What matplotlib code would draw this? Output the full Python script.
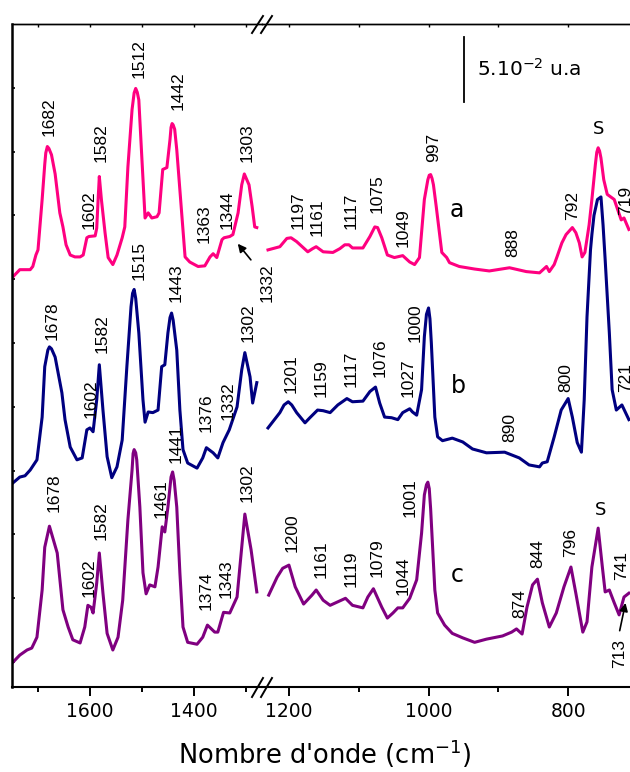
import numpy as np
import matplotlib.pyplot as plt
from matplotlib.lines import Line2D

plt.rcParams['font.family'] = ['DejaVu Sans']

# --- spectra (wavenumber cm-1, stacked intensity in units of 5.10^-2 u.a) ---
a_wn = np.array([1748, 1735, 1715, 1710, 1704, 1700, 1692, 1687, 1685, 1682, 1679, 1674, 1667, 1658,
                 1652, 1646, 1638, 1629, 1619, 1613, 1606, 1602, 1590, 1587, 1584, 1582, 1578, 1571,
                 1565, 1556, 1548, 1538, 1533, 1527, 1519, 1515, 1512, 1509, 1506, 1501, 1494, 1488,
                 1481, 1471, 1467, 1460, 1452, 1446, 1444, 1442, 1440, 1437, 1433, 1423, 1417, 1408,
                 1392, 1379, 1369, 1363, 1356, 1346, 1342, 1331, 1325, 1315, 1308, 1303, 1294, 1288,
                 1283, 1279,
                 1230, 1213, 1203, 1197, 1189, 1181, 1173, 1166, 1161, 1151, 1137, 1127, 1120, 1114,
                 1109, 1094, 1084, 1077, 1073, 1067, 1059, 1049, 1037, 1027, 1020, 1013, 1006, 1001,
                 999, 997, 995, 993, 989, 981, 974, 970, 956, 934, 913, 884, 860, 841, 831, 827, 820,
                 816, 809, 803, 794, 789, 784, 780, 776, 770, 766, 761, 759, 757, 755, 753, 749, 744,
                 734, 729, 724, 720, 713])
a_int = np.array([6.04, 6.15, 6.15, 6.20, 6.38, 6.46, 7.25, 7.80, 7.98, 8.08, 8.05, 7.95, 7.65, 7.04,
                  6.82, 6.54, 6.38, 6.35, 6.35, 6.38, 6.65, 6.67, 6.68, 6.80, 7.30, 7.61, 7.25, 6.73,
                  6.34, 6.23, 6.38, 6.65, 6.82, 7.76, 8.66, 8.92, 8.99, 8.93, 8.81, 8.03, 6.96, 7.04,
                  6.96, 6.98, 7.04, 7.72, 7.75, 8.19, 8.38, 8.44, 8.42, 8.35, 8.03, 6.98, 6.35, 6.27,
                  6.20, 6.21, 6.35, 6.40, 6.34, 6.62, 6.65, 6.67, 6.70, 7.04, 7.48, 7.65, 7.48, 7.14,
                  6.82, 6.81,
                  6.46, 6.51, 6.64, 6.65, 6.59, 6.51, 6.43, 6.48, 6.51, 6.43, 6.42, 6.48, 6.54, 6.54,
                  6.49, 6.49, 6.67, 6.82, 6.81, 6.65, 6.38, 6.34, 6.37, 6.27, 6.23, 6.34, 7.25, 7.56,
                  7.63, 7.64, 7.58, 7.48, 7.14, 6.42, 6.34, 6.26, 6.20, 6.16, 6.13, 6.18, 6.12, 6.10,
                  6.20, 6.12, 6.23, 6.35, 6.57, 6.70, 6.81, 6.73, 6.57, 6.35, 6.42, 6.85, 7.25, 7.80,
                  7.99, 8.06, 8.01, 7.90, 7.56, 7.33, 7.25, 7.09, 6.93, 6.96, 6.78])

b_wn = np.array([1748, 1735, 1725, 1715, 1702, 1692, 1687, 1681, 1678, 1674, 1667, 1654, 1648, 1638,
                 1625, 1615, 1606, 1600, 1594, 1587, 1582, 1575, 1567, 1558, 1548, 1538, 1529, 1521,
                 1518, 1515, 1512, 1506, 1498, 1494, 1488, 1479, 1469, 1462, 1456, 1450, 1446, 1443,
                 1440, 1433, 1427, 1421, 1412, 1394, 1383, 1376, 1363, 1354, 1344, 1332, 1317, 1308,
                 1302, 1292, 1287, 1279,
                 1230, 1213, 1207, 1201, 1196, 1189, 1177, 1170, 1159, 1151, 1141, 1130, 1117, 1109,
                 1094, 1084, 1076, 1070, 1063, 1053, 1044, 1037, 1027, 1023, 1017, 1010, 1006, 1003,
                 1000, 998, 996, 991, 987, 980, 966, 951, 937, 917, 891, 870, 856, 841, 837, 830, 820,
                 810, 800, 794, 787, 781, 777, 773, 768, 766, 763, 758, 753, 750, 747, 741, 737, 731,
                 723, 713])
b_int = np.array([2.81, 2.90, 2.92, 3.01, 3.17, 3.84, 4.63, 4.89, 4.94, 4.91, 4.78, 4.22, 3.80, 3.37,
                  3.17, 3.20, 3.64, 3.67, 3.61, 4.11, 4.66, 3.95, 3.22, 2.89, 3.06, 3.48, 4.63, 5.57,
                  5.78, 5.84, 5.70, 5.16, 4.11, 3.76, 3.92, 3.91, 3.95, 4.63, 4.66, 5.16, 5.40, 5.47,
                  5.36, 4.89, 3.95, 3.33, 3.12, 3.04, 3.20, 3.36, 3.28, 3.20, 3.44, 3.64, 4.00, 4.58,
                  4.85, 4.47, 4.06, 4.38,
                  3.67, 3.91, 4.03, 4.08, 4.03, 3.91, 3.75, 3.83, 3.95, 3.94, 3.91, 4.03, 4.13, 4.08,
                  4.09, 4.24, 4.31, 4.06, 3.84, 3.83, 3.80, 3.91, 3.97, 3.92, 3.87, 4.27, 5.10, 5.45,
                  5.55, 5.38, 5.00, 3.84, 3.53, 3.47, 3.51, 3.45, 3.34, 3.28, 3.29, 3.20, 3.09, 3.06,
                  3.12, 3.14, 3.53, 3.95, 4.13, 3.84, 3.44, 3.29, 4.11, 5.41, 6.46, 6.70, 7.00, 7.25,
                  7.29, 6.85, 6.31, 5.16, 4.27, 3.95, 4.03, 3.80])

c_wn = np.array([1748, 1735, 1721, 1712, 1702, 1692, 1687, 1678, 1663, 1652, 1642, 1633, 1619, 1610,
                 1604, 1598, 1594, 1587, 1582, 1575, 1567, 1556, 1546, 1537, 1527, 1519, 1517, 1515,
                 1512, 1510, 1504, 1498, 1492, 1485, 1475, 1469, 1461, 1456, 1450, 1444, 1441, 1438,
                 1433, 1427, 1421, 1412, 1394, 1383, 1374, 1360, 1354, 1343, 1331, 1317, 1308, 1302,
                 1290, 1279,
                 1229, 1217, 1209, 1200, 1191, 1179, 1167, 1161, 1151, 1141, 1119, 1109, 1094, 1087,
                 1079, 1067, 1059, 1051, 1044, 1037, 1027, 1017, 1010, 1006, 1003, 1001, 999, 997, 991,
                 987, 977, 966, 951, 934, 917, 894, 881, 874, 866, 859, 851, 844, 837, 827, 817, 806,
                 796, 789, 779, 773, 766, 757, 751, 747, 741, 734, 727, 720, 713])
c_int = np.array([0.00, 0.11, 0.19, 0.22, 0.39, 1.13, 1.80, 2.13, 1.71, 0.82, 0.55, 0.35, 0.30, 0.55,
                  0.89, 0.86, 0.77, 1.24, 1.71, 1.08, 0.45, 0.19, 0.39, 0.97, 2.23, 3.01, 3.27, 3.33,
                  3.28, 3.17, 2.43, 1.40, 1.07, 1.21, 1.18, 1.49, 2.12, 2.04, 2.43, 2.90, 2.98, 2.85,
                  2.43, 1.40, 0.55, 0.31, 0.28, 0.39, 0.58, 0.47, 0.47, 0.78, 0.77, 1.02, 1.80, 2.32,
                  1.76, 1.10,
                  1.05, 1.33, 1.47, 1.52, 1.18, 0.91, 1.05, 1.13, 0.97, 0.89, 1.00, 0.89, 0.85, 1.02,
                  1.15, 0.86, 0.69, 0.77, 0.85, 0.85, 1.00, 1.29, 2.02, 2.62, 2.78, 2.82, 2.72, 2.40,
                  1.13, 0.77, 0.58, 0.45, 0.38, 0.31, 0.36, 0.41, 0.47, 0.52, 0.44, 0.86, 1.21, 1.30,
                  0.93, 0.55, 0.77, 1.18, 1.49, 1.08, 0.47, 0.63, 1.49, 2.10, 1.49, 1.10, 1.13, 0.93,
                  0.74, 1.02, 1.08])

# peak labels: text, x (cm-1), y of text bottom
labels_a = [("1682", 1679, 8.24), ("1602", 1602, 6.78), ("1582", 1579, 7.83), ("1512", 1506, 9.16),
            ("1442", 1431, 8.66), ("1363", 1381, 6.57), ("1344", 1337, 6.78), ("1303", 1298, 7.84),
            ("1332", 1260, 5.65), ("1197", 1187, 6.78), ("1161", 1159, 6.67), ("1117", 1111, 6.78),
            ("1075", 1074, 7.04), ("1049", 1036, 6.51), ("997", 993, 7.83), ("888", 879, 6.35),
            ("792", 793, 6.93), ("719", 717, 7.01)]
labels_b = [("1678", 1673, 5.05), ("1602", 1598, 3.83), ("1582", 1577, 4.85), ("1515", 1506, 5.99),
            ("1443", 1435, 5.65), ("1376", 1377, 3.61), ("1332", 1335, 3.80), ("1302", 1296, 5.02),
            ("1201", 1197, 4.22), ("1159", 1154, 4.16), ("1117", 1111, 4.31), ("1076", 1070, 4.47),
            ("1027", 1029, 4.16), ("1000", 1019, 5.02), ("890", 884, 3.45), ("800", 803, 4.24),
            ("721", 717, 4.24)]
labels_c = [("1678", 1669, 2.35), ("1602", 1602, 1.02), ("1582", 1579, 1.91), ("1461", 1463, 2.26),
            ("1441", 1435, 3.12), ("1374", 1377, 0.82), ("1343", 1338, 1.00), ("1302", 1298, 2.51),
            ("1200", 1196, 1.73), ("1161", 1154, 1.32), ("1119", 1111, 1.18), ("1079", 1074, 1.33),
            ("1044", 1037, 1.05), ("1001", 1026, 2.27), ("874", 870, 0.69), ("844", 844, 1.47),
            ("796", 797, 1.65), ("741", 723, 1.29), ("713", 726, -0.09)]

pink = '#ff0080'
navy = '#000080'
purple = '#800080'

W, H = 630., 772.


def fx(px):
    return px / W


def fy(py):
    return 1 - py / H


fig = plt.figure(figsize=(6.3, 7.72), dpi=100)
fig.patch.set_facecolor('w')
ax1 = fig.add_axes([fx(12), fy(687), fx(262) - fx(12), fy(24) - fy(687)])
ax2 = fig.add_axes([fx(262), fy(687), 1 - fx(262), fy(24) - fy(687)], sharey=ax1)
ax1.patch.set_visible(False)
ax2.patch.set_visible(False)

ax1.set_xlim(1750, 1269)
ax2.set_xlim(1238.6, 711.4)
ax1.set_ylim(-0.39, 10.0)

for wn, inten, col in [(a_wn, a_int, pink), (b_wn, b_int, navy), (c_wn, c_int, purple)]:
    m = wn > 1250
    ax1.plot(wn[m], inten[m], color=col, lw=2.2, solid_joinstyle='round')
    ax2.plot(wn[~m], inten[~m], color=col, lw=2.2, solid_joinstyle='round')

# axes cosmetics
ax1.spines['right'].set_visible(False)
ax2.spines['left'].set_visible(False)
ax2.spines['right'].set_visible(False)
for ax in (ax1, ax2):
    ax.spines['top'].set_linewidth(1.0)
    ax.spines['bottom'].set_linewidth(1.5)
ax1.spines['left'].set_linewidth(1.8)

ax1.set_xticks([1600, 1400])
ax1.set_xticks([1700, 1500, 1300], minor=True)
ax2.set_xticks([1200, 1000, 800])
ax2.set_xticks([1100, 900], minor=True)
for ax in (ax1, ax2):
    ax.tick_params(axis='x', which='major', direction='out', length=6.5, width=1.4,
                   labelsize=13.5, pad=4)
    ax.tick_params(axis='x', which='minor', direction='out', length=3.6, width=1.4)
    top = ax.secondary_xaxis('top')
    top.set_xticks(ax.get_xticks())
    top.set_xticks(ax.get_xticks(minor=True), minor=True)
    top.tick_params(which='both', direction='in', length=2.5, width=1.0, labeltop=False)
    top.spines['top'].set_linewidth(1.0)

ax1.set_yticks(range(0, 10))
ax1.tick_params(axis='y', direction='in', length=2.5, width=1.2, labelleft=False)
ax2.tick_params(axis='y', left=False, labelleft=False)

# peak labels
for lab_list in (labels_a, labels_b, labels_c):
    for txt, x, y in lab_list:
        ax = ax1 if x > 1250 else ax2
        ax.text(x, y, txt, rotation=90, ha='center', va='bottom', fontsize=12.5,
                family=['Liberation Sans', 'DejaVu Sans'], clip_on=False)

ax1.annotate('', xy=(1319, 6.59), xytext=(1287, 6.27), annotation_clip=False,
             arrowprops=dict(arrowstyle='-|>', color='k', lw=1.2, mutation_scale=12))
ax2.annotate('', xy=(717, 0.97), xytext=(727, 0.45), annotation_clip=False,
             arrowprops=dict(arrowstyle='-|>', color='k', lw=1.2, mutation_scale=12))

ax2.text(959, 7.09, 'a', fontsize=17, ha='center', va='center')
ax2.text(957, 4.33, 'b', fontsize=17, ha='center', va='center')
ax2.text(959, 1.36, 'c', fontsize=17, ha='center', va='center')
ax2.text(756, 8.36, 'S', fontsize=13, ha='center', va='center')
ax2.text(754, 2.38, 'S', fontsize=13, ha='center', va='center')

# scale bar
ax2.plot([949, 949], [8.78, 9.79], color='k', lw=1.3)
ax2.text(930, 9.29, '5.10$^{-2}$ u.a', fontsize=14.5, ha='left', va='center')

# axis break marks
for ytop, ybot in [(33, 16), (697, 678)]:
    for x0 in (252, 261):
        fig.add_artist(Line2D([fx(x0), fx(x0 + 11)], [fy(ytop), fy(ybot)], color='k', lw=1.4))

fig.text(fx(325), fy(754), "Nombre d'onde (cm$^{-1}$)", ha='center', va='center', fontsize=18.5)

fig.savefig('out.png', dpi=100)
